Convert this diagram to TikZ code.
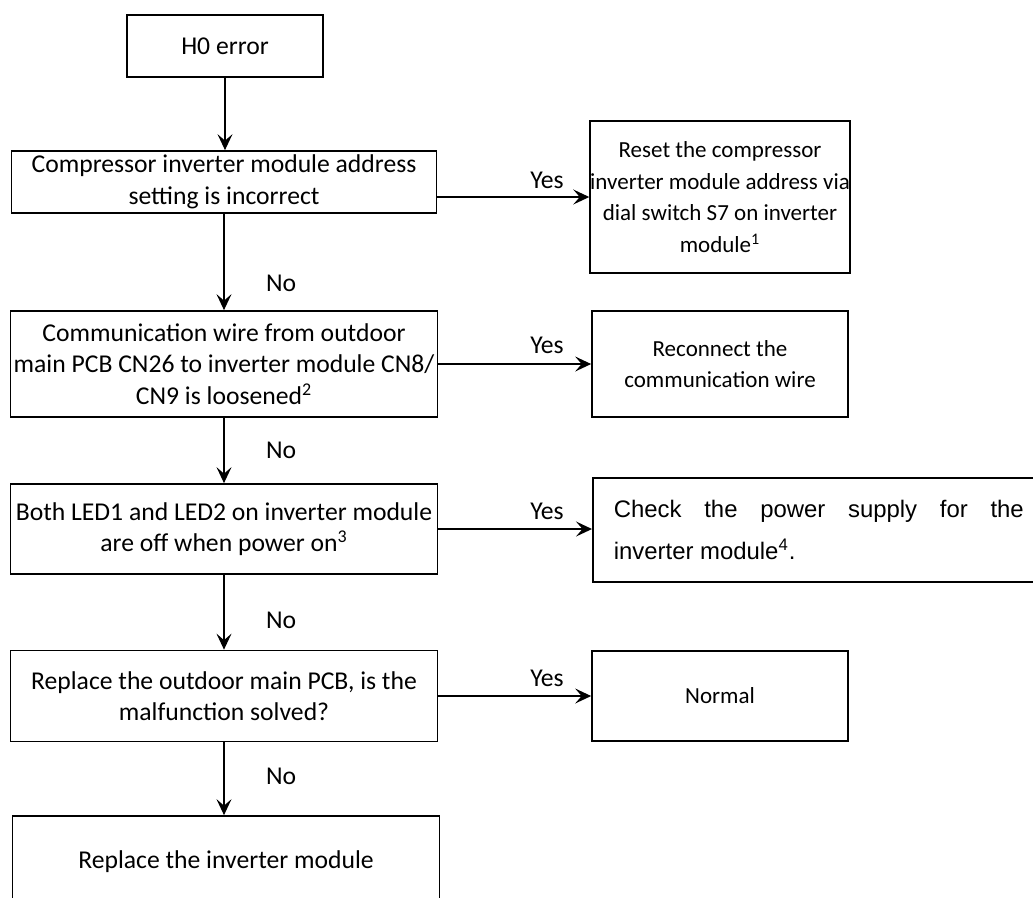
\documentclass[tikz,border=0pt]{standalone}
\usepackage{fontspec}
\setmainfont{Carlito}
\newfontfamily\arialfont{Liberation Sans}
\usetikzlibrary{arrows.meta}

\tikzset{
  box/.style={draw, line width=1pt, align=center, inner sep=0pt,
    font=\fontsize{14.6}{17.9}\selectfont},
  rbox/.style={box, minimum width=5.12cm, font=\fontsize{13.1}{17.9}\selectfont},
  arr/.style={-{Stealth[length=3.2mm,width=3mm,inset=1.3mm]}, line width=0.75pt},
  lbl/.style={font=\fontsize{14.6}{17.9}\selectfont, inner sep=1pt}
}

\begin{document}
\begin{tikzpicture}[x=0.02cm, y=-0.02cm]
\useasboundingbox (0,0) rectangle (1033,897);

%% left column
\node[box, minimum width=3.92cm, minimum height=1.24cm] (err) at (225,46) {H0 error};
\node[box, minimum width=8.5cm, minimum height=1.24cm] (q1) at (224,182) {Compressor inverter module address\\setting is incorrect};
\node[box, minimum width=8.54cm, minimum height=2.12cm] (q2) at (224,364) {Communication wire from outdoor\\main PCB CN26 to inverter module CN8/\\CN9 is loosened\textsuperscript{2}};
\node[box, minimum width=8.54cm, minimum height=1.8cm] (q3) at (224,529) {Both LED1 and LED2 on inverter module\\are off when power on\textsuperscript{3}};
\node[box, minimum width=8.54cm, minimum height=1.82cm] (q4) at (224,696) {Replace the outdoor main PCB, is the\\malfunction solved?};
\node[box, minimum width=8.54cm, minimum height=1.84cm] (q5) at (226,862) {Replace the inverter module};

%% right column
\node[rbox, minimum height=3.04cm] (r1) at (720,197) {Reset the compressor\\inverter module address via\\dial switch S7 on inverter\\module\textsuperscript{1}};
\node[rbox, minimum height=2.12cm] (r2) at (720,364) {Reconnect the\\communication wire};
\node[box, anchor=west, text width=8.2cm, align=justify, inner xsep=0.42cm, minimum height=2.08cm,
  font=\arialfont\fontsize{13.6}{24.4}\selectfont] (r3) at (592,530) {Check the power supply for the\linebreak inverter module\textsuperscript{4}.};
\node[rbox, minimum height=1.8cm] (r4) at (720,696) {Normal};

%% arrows
\draw[arr] (err.south) -- (err.south |- q1.north);
\draw[arr] (q1.south) -- (q2.north);
\draw[arr] (q2.south) -- (q3.north);
\draw[arr] (q3.south) -- (q4.north);
\draw[arr] (q4.south) -- (q4.south |- q5.north);

\draw[arr] (r1.west -| q1.east) -- (r1.west);
\draw[arr] (q2.east) -- (r2.west);
\draw[arr] (q3.east) -- (q3.east -| r3.west);
\draw[arr] (q4.east) -- (r4.west);

%% labels
\node[lbl, anchor=west] (no1) at (264,283) {No};
\node[lbl, anchor=west] (no2) at (264,450) {No};
\node[lbl, anchor=west] (no3) at (264,620) {No};
\node[lbl, anchor=west] (no4) at (264,776) {No};

\node[lbl] (yes1) at (547,180) {Yes};
\node[lbl] (yes2) at (547,345) {Yes};
\node[lbl] (yes3) at (547,511) {Yes};
\node[lbl] (yes4) at (547,678) {Yes};
\end{tikzpicture}
\end{document}
